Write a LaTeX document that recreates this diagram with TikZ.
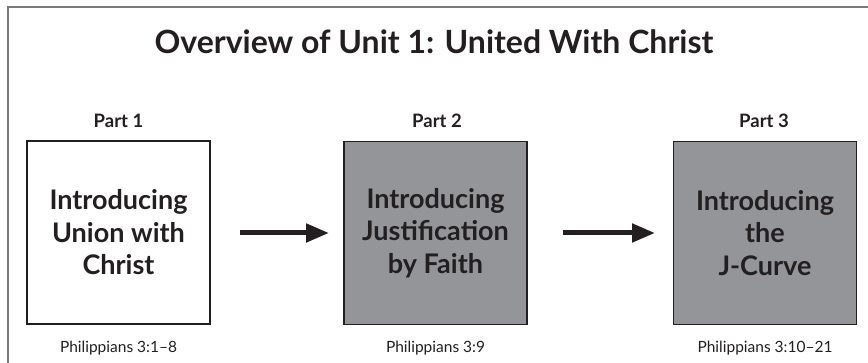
\documentclass[tikz,border=0pt]{standalone}
\usepackage{fontspec}
\setmainfont{Lato}
\usetikzlibrary{arrows.meta}
\definecolor{boxgray}{HTML}{939598}
\definecolor{ink}{HTML}{231F20}
\definecolor{framegray}{HTML}{7A7A7A}
\tikzset{
  partbox/.style={draw=ink, line width=1.4pt, minimum width=183pt, minimum height=183pt, inner sep=0pt, align=center, text=ink, font=\fontsize{27}{32.5}\selectfont\bfseries},
  graybox/.style={partbox, fill=boxgray},
  partlabel/.style={text=ink, font=\fontsize{18.5}{22}\selectfont\bfseries, anchor=base},
  versel/.style={text=ink, font=\fontsize{15.5}{19}\selectfont, anchor=base},
  flow/.style={draw=ink, line width=5pt, -{Triangle[length=23pt, width=18pt]}, shorten >=0pt}
}
\begin{document}
\begin{tikzpicture}[x=1pt,y=1pt]
\useasboundingbox (0,0) rectangle (868,363);
\draw[framegray, line width=2pt] (8,-5) -- (8,355.5) -- (875,355.5);
\node[text=ink, font=\fontsize{32}{38}\selectfont\bfseries, anchor=base] (title) at (434,309) {Overview of Unit 1: United With Christ};
\node[partbox] (b1) at (118.5,130.5) {Introducing\\Union with\\Christ};
\node[graybox] (b2) at (435.5,130) {Introducing\\Justification\\by Faith};
\node[graybox] (b3) at (765,130) {Introducing\\the\\J-Curve};
\node[partlabel] (p1) at (118.5,235) {Part 1};
\node[partlabel] (p2) at (437,235) {Part 2};
\node[partlabel] (p3) at (764,235) {Part 3};
\node[versel] (v1) at (118.5,10.5) {Philippians 3:1–8};
\node[versel] (v2) at (435.5,10.5) {Philippians 3:9};
\node[versel] (v3) at (765,10.5) {Philippians 3:10–21};
\coordinate (a1s) at (240,130);
\coordinate (a1e) at (329,130);
\coordinate (a2s) at (563,130);
\coordinate (a2e) at (655,130);
\draw[flow] (a1s) -- (a1e);
\draw[flow] (a2s) -- (a2e);
\end{tikzpicture}
\end{document}
